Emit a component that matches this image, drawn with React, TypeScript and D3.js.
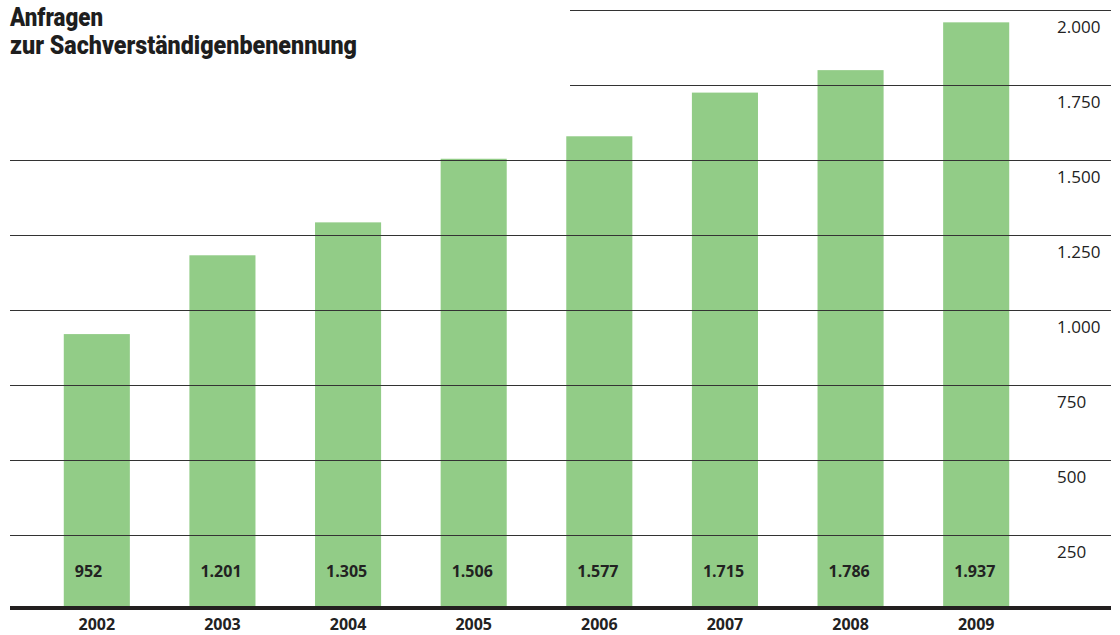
import React, { useEffect, useRef } from "react";
import * as d3 from "d3";

const years = ["2002", "2003", "2004", "2005", "2006", "2007", "2008", "2009"];
const requests = [952, 1201, 1305, 1506, 1577, 1715, 1786, 1937];
const tickValues = [250, 500, 750, 1000, 1250, 1500, 1750, 2000];
const titleLines = ["Anfragen", "zur Sachverständigenbenennung"];

const fmt = (v: number) => d3.format(",")(v).replace(/,/g, ".");

const App: React.FC = () => {
  const ref = useRef<SVGSVGElement>(null);

  useEffect(() => {
    if (!ref.current) return;
    const width = 1120;
    const height = 635;
    const svg = d3.select(ref.current);
    svg.selectAll("*").remove();
    svg.attr("width", width).attr("height", height);

    const font = "'Open Sans', sans-serif";

    const x = d3.scaleBand<string>().domain(years).range([34, 1039]).paddingInner(0.474).paddingOuter(0.237);
    // gridline scale
    const y = d3.scaleLinear().domain([0, 2000]).range([610, 10]);
    // bars in the original sit on a slightly offset scale
    const yBar = d3.scaleLinear().domain([0, 2000]).range([635.4, 2.4]);

    // bars
    svg
      .append("g")
      .selectAll("rect")
      .data(requests)
      .enter()
      .append("rect")
      .attr("x", (d, i) => x(years[i]) as number)
      .attr("width", x.bandwidth())
      .attr("y", (d) => yBar(d))
      .attr("height", (d) => 608 - yBar(d))
      .attr("fill", "#92cc87");

    // gridlines, drawn above the bars
    const grid = svg.append("g");
    grid
      .selectAll("line")
      .data(tickValues)
      .enter()
      .append("line")
      .attr("x1", (d) => (d >= 1750 ? 570 : 10))
      .attr("x2", 1111)
      .attr("y1", (d) => Math.round(y(d)) + 0.5)
      .attr("y2", (d) => Math.round(y(d)) + 0.5)
      .attr("stroke", "#333")
      .attr("stroke-width", 1.1);

    grid
      .selectAll("text")
      .data(tickValues)
      .enter()
      .append("text")
      .attr("x", 1057)
      .attr("y", (d) => y(d) + 23)
      .attr("font-family", font)
      .attr("font-size", 17)
      .attr("fill", "#222")
      .text((d) => fmt(d));

    // baseline
    svg
      .append("rect")
      .attr("x", 10)
      .attr("y", 606)
      .attr("width", 1101)
      .attr("height", 4)
      .attr("fill", "#231f20");

    // value labels inside bars
    svg
      .append("g")
      .selectAll("text")
      .data(requests)
      .enter()
      .append("text")
      .attr("x", (d, i) => (x(years[i]) as number) + 11)
      .attr("y", 577)
      .attr("font-family", font)
      .attr("font-weight", 700)
      .attr("font-size", 16)
      .attr("fill", "#222")
      .text((d) => fmt(d));

    // year labels
    svg
      .append("g")
      .selectAll("text")
      .data(years)
      .enter()
      .append("text")
      .attr("x", (d) => (x(d) as number) + x.bandwidth() / 2)
      .attr("y", 630)
      .attr("text-anchor", "middle")
      .attr("font-family", font)
      .attr("font-weight", 700)
      .attr("font-size", 16)
      .attr("fill", "#222")
      .text((d) => d);

    // title
    const titleWidths = [93, 347];
    svg
      .append("g")
      .selectAll("text")
      .data(titleLines)
      .enter()
      .append("text")
      .attr("x", 10)
      .attr("y", (d, i) => 26 + i * 28)
      .attr("font-family", "Roboto, sans-serif")
      .attr("font-weight", 900)
      .attr("font-size", 25)
      .attr("fill", "#1e1e1e")
      .attr("textLength", (d, i) => titleWidths[i])
      .attr("lengthAdjust", "spacingAndGlyphs")
      .text((d) => d);
  }, []);

  return (
    <div style={{ position: "absolute", left: 0, top: 0, background: "#fff" }}>
      <svg ref={ref} style={{ display: "block" }}></svg>
    </div>
  );
};

export default App;
